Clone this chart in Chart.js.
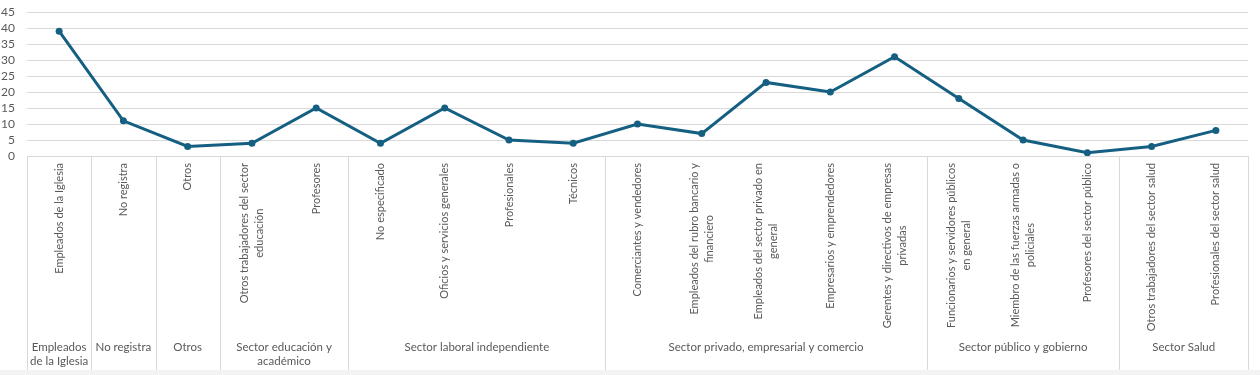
<!DOCTYPE html>
<html>
<head>
<meta charset="utf-8">
<script src="https://cdn.jsdelivr.net/npm/chart.js@4"></script>
<style>
  html, body { margin: 0; padding: 0; background: #f3f3f3; }
  #caja { width: 1260px; height: 370px; background: #ffffff; }
</style>
</head>
<body>
<div id="caja"><canvas id="ocupaciones_grafica" width="1260" height="370"></canvas></div>
<script>
// categorias (cada una ya partida en lineas como en la imagen)
const categorias = [
  ['Empleados de la Iglesia'],
  ['No registra'],
  ['Otros'],
  ['Otros trabajadores del sector', 'educación'],
  ['Profesores'],
  ['No especificado'],
  ['Oficios y servicios generales'],
  ['Profesionales'],
  ['Técnicos'],
  ['Comerciantes y vendedores'],
  ['Empleados del rubro bancario y', 'financiero'],
  ['Empleados del sector privado en', 'general'],
  ['Empresarios y emprendedores'],
  ['Gerentes y directivos de empresas', 'privadas'],
  ['Funcionarios y servidores públicos', 'en general'],
  ['Miembro de las fuerzas armadas o', 'policiales'],
  ['Profesores del sector público'],
  ['Otros trabajadores del sector salud'],
  ['Profesionales del sector salud']
];

const valores = [39, 11, 3, 4, 15, 4, 15, 5, 4, 10, 7, 23, 20, 31, 18, 5, 1, 3, 8];

const grupos_nombres = [
  ['Empleados', 'de la Iglesia'],
  ['No registra'],
  ['Otros'],
  ['Sector educación y', 'académico'],
  ['Sector laboral independiente'],
  ['Sector privado, empresarial y comercio'],
  ['Sector público y gobierno'],
  ['Sector Salud']
];
const grupos_tamanos = [1, 1, 1, 2, 4, 5, 3, 2];

const y_ticks = [0, 5, 10, 15, 20, 25, 30, 35, 40, 45];

const fuente = 'Lato, "Noto Sans", sans-serif';
const gris_texto = '#595959';
const gris_linea = '#d9d9d9';

// eje de categorias de dos niveles, estilo Excel
const eje_dos_niveles = {
  id: 'eje_dos_niveles',
  afterDraw(chart) {
    const c = chart.ctx;
    const x = chart.scales.x;
    const area = chart.chartArea;
    const fondo = 370;
    const borde = (i) => {
      if (i <= 0) return area.left;
      if (i >= categorias.length) return area.right;
      return (x.getPixelForValue(i - 1) + x.getPixelForValue(i)) / 2;
    };

    c.save();
    c.strokeStyle = gris_linea;
    c.lineWidth = 1;

    // separadores entre grupos
    let inicio = 0;
    const limites = [0];
    grupos_tamanos.forEach(n => { inicio += n; limites.push(inicio); });
    limites.forEach(i => {
      const px = Math.round(borde(i)) + 0.5;
      c.beginPath();
      c.moveTo(px, area.bottom);
      c.lineTo(px, fondo);
      c.stroke();
    });

    // etiquetas de categoria, giradas
    c.fillStyle = gris_texto;
    c.font = '11px ' + fuente;
    c.textBaseline = 'middle';
    c.textAlign = 'right';
    const alto_linea = 15;
    categorias.forEach((lineas, i) => {
      const px = x.getPixelForValue(i);
      lineas.forEach((t, k) => {
        const off = (k - (lineas.length - 1) / 2) * alto_linea;
        c.save();
        c.translate(px + off, area.bottom + 7);
        c.rotate(-Math.PI / 2);
        if (k > 0) {
          // segunda linea centrada respecto a la primera
          const w0 = c.measureText(lineas[0]).width;
          c.textAlign = 'center';
          c.fillText(t, -w0 / 2, 0);
        } else {
          c.fillText(t, 0, 0);
        }
        c.restore();
      });
    });

    // etiquetas de grupo
    c.font = '11.5px ' + fuente;
    c.textAlign = 'center';
    grupos_nombres.forEach((lineas, g) => {
      const cx = (borde(limites[g]) + borde(limites[g + 1])) / 2;
      lineas.forEach((t, k) => {
        c.fillText(t, cx, 347 + k * 14);
      });
    });
    c.restore();
  }
};

const ctx = document.getElementById('ocupaciones_grafica').getContext('2d');

const grafica_ocupaciones = new Chart(ctx, {
  type: 'line',
  data: {
    labels: categorias.map(l => l.join(' ')),
    datasets: [{
      data: valores,
      borderColor: '#156082',
      backgroundColor: '#156082',
      borderWidth: 3,
      pointRadius: 3.5,
      pointHoverRadius: 3.5,
      pointBackgroundColor: '#156082',
      pointBorderWidth: 0,
      tension: 0
    }]
  },
  options: {
    responsive: false,
    animation: false,
    layout: { padding: { top: 12, right: 12, bottom: 214, left: 0 } },
    plugins: {
      legend: { display: false },
      tooltip: { enabled: false }
    },
    scales: {
      x: {
        display: false,
        offset: true
      },
      y: {
        min: 0,
        max: 45,
        afterBuildTicks: (s) => { s.ticks = y_ticks.map(v => ({ value: v })); },
        afterFit: (s) => {
          s.width = 27;
          s.paddingTop = 0;
          s.paddingBottom = 0;
        },
        border: { display: false },
        grid: { color: gris_linea, drawTicks: false },
        ticks: {
          autoSkip: false,
          padding: 12,
          color: gris_texto,
          font: { family: fuente, size: 12 }
        }
      }
    }
  },
  plugins: [eje_dos_niveles]
});
</script>
</body>
</html>
